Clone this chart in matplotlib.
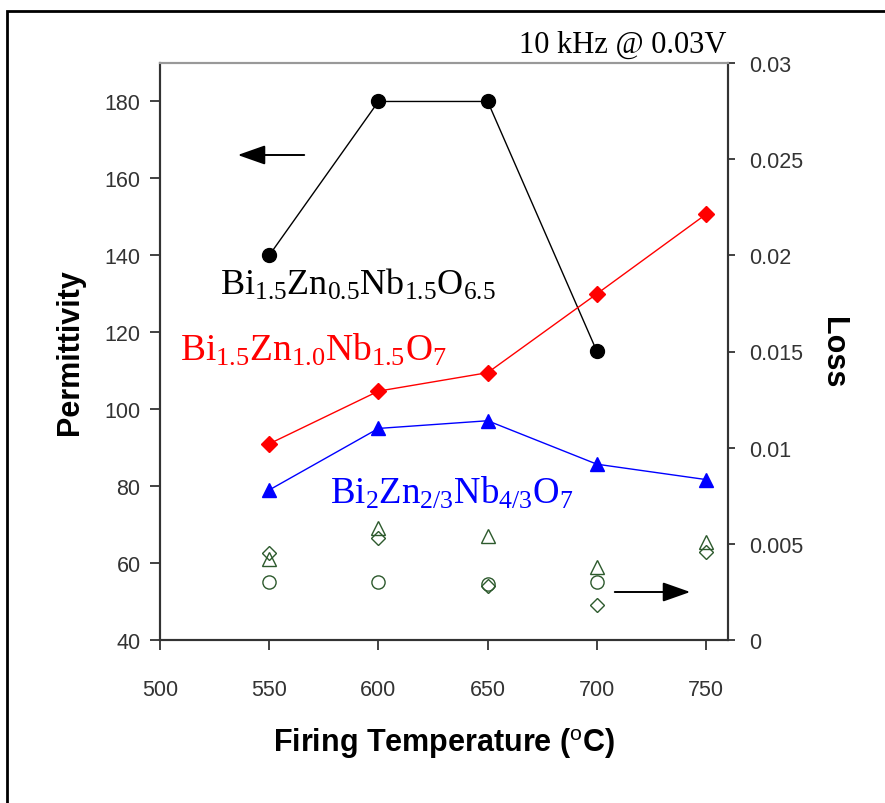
import matplotlib
matplotlib.use("Agg")
import matplotlib.pyplot as plt
from matplotlib.patches import Rectangle

plt.rcParams['font.family'] = ['Liberation Sans', 'DejaVu Sans']
plt.rcParams['mathtext.fontset'] = 'custom'
plt.rcParams['mathtext.rm'] = 'Liberation Serif'
plt.rcParams['mathtext.it'] = 'Liberation Serif:italic'
plt.rcParams['mathtext.sf'] = 'Liberation Sans'

# ---- data ----
temps = [550, 600, 650, 700, 750]
temps_bzn05 = [550, 600, 650, 700]
perm_bzn05 = [140, 180, 180, 115]          # black circles
perm_bzn10 = [91, 104.7, 109.5, 130, 150.7]  # red diamonds
perm_bzn23 = [79, 95, 97, 85.7, 81.7]      # blue triangles

loss_bzn05 = [0.0030, 0.0030, 0.0029, 0.0030]          # open circles
loss_bzn10 = [0.0045, 0.0053, 0.0028, 0.0018, 0.0046]  # open diamonds
loss_bzn23 = [0.0042, 0.0058, 0.0054, 0.0038, 0.0051]  # open triangles

xticks = [500, 550, 600, 650, 700, 750]
yticks = [40, 60, 80, 100, 120, 140, 160, 180]
y2ticks = [0, 0.005, 0.01, 0.015, 0.02, 0.025, 0.03]
y2labels = ['0', '0.005', '0.01', '0.015', '0.02', '0.025', '0.03']

fig = plt.figure(figsize=(8.85, 8.04), dpi=100)
ax = fig.add_axes([160/885, 1-641/804, (728-160)/885, (641-64)/804])
ax2 = ax.twinx()

green = '#2d5a2d'
ax.plot(temps_bzn05, perm_bzn05, color='black', lw=1, marker='o', ms=10, zorder=3)
ax.plot(temps, perm_bzn10, color='red', lw=1, marker='D', ms=8.5, zorder=3)
ax.plot(temps, perm_bzn23, color='blue', lw=1, marker='^', ms=10, zorder=3)

ax2.plot(temps_bzn05, loss_bzn05, ls='none', marker='o', ms=9.5, mfc='none', mec=green, mew=1)
ax2.plot(temps, loss_bzn10, ls='none', marker='D', ms=7.5, mfc='none', mec=green, mew=1)
ax2.plot(temps, loss_bzn23, ls='none', marker='^', ms=10.5, mfc='none', mec=green, mew=1)

ax.set_xlim(500, 760)
ax.set_ylim(40, 190)
ax2.set_ylim(0, 0.03)
ax.set_xticks(xticks)
ax.set_yticks(yticks)
ax2.set_yticks(y2ticks)
ax2.set_yticklabels(y2labels)

for a in (ax, ax2):
    for s in a.spines.values():
        s.set_color('#333333')
        s.set_linewidth(1.5)
    a.spines['top'].set_color('#999999')
ax.tick_params(axis='both', direction='out', length=7, width=1.3, colors='#333333',
               labelsize=15.5, labelcolor='#333333', pad=7)
ax.tick_params(axis='x', pad=21)
ax2.tick_params(axis='y', direction='out', length=5, width=1.3, colors='#333333',
                labelsize=15.5, labelcolor='#333333', pad=10)

ax.set_xlabel('Firing Temperature ($^{\\mathsf{o}}$C)', fontsize=22, fontweight='bold',
              labelpad=18)
ax.set_ylabel('Permittivity', fontsize=22, fontweight='bold', labelpad=14)
ax2.set_ylabel('Loss', fontsize=22, fontweight='bold', rotation=-90, labelpad=32)

ax.text(0.105, 0.617, r'$\mathrm{Bi_{1.5}Zn_{0.5}Nb_{1.5}O_{6.5}}$', transform=ax.transAxes,
        fontsize=26, color='black', va='center', ha='left')
ax.text(0.035, 0.503, r'$\mathrm{Bi_{1.5}Zn_{1.0}Nb_{1.5}O_{7}}$', transform=ax.transAxes,
        fontsize=27, color='red', va='center', ha='left')
ax.text(0.30, 0.255, r'$\mathrm{Bi_{2}Zn_{2/3}Nb_{4/3}O_{7}}$', transform=ax.transAxes,
        fontsize=26.5, color='blue', va='center', ha='left')

fig.text(623/885, 1-45/804, '10 kHz @ 0.03V', family='Liberation Serif', fontsize=22,
         ha='center', va='center', color='black')

arrow_style = dict(arrowstyle='-|>,head_length=1.7,head_width=0.6', color='black', lw=1.4)
ax.annotate('', xy=((235-160)/568, (641-156)/577), xytext=((307-160)/568, (641-156)/577),
            xycoords='axes fraction', textcoords='axes fraction', arrowprops=arrow_style)
ax.annotate('', xy=((693-160)/568, (641-593)/577), xytext=((612-160)/568, (641-593)/577),
            xycoords='axes fraction', textcoords='axes fraction', arrowprops=arrow_style)

fig.add_artist(Rectangle((7/885, -0.05), 1.2, 1 - 12/804 + 0.05, transform=fig.transFigure,
                         fill=False, edgecolor='black', lw=2))

fig.savefig('out.png', dpi=100)
